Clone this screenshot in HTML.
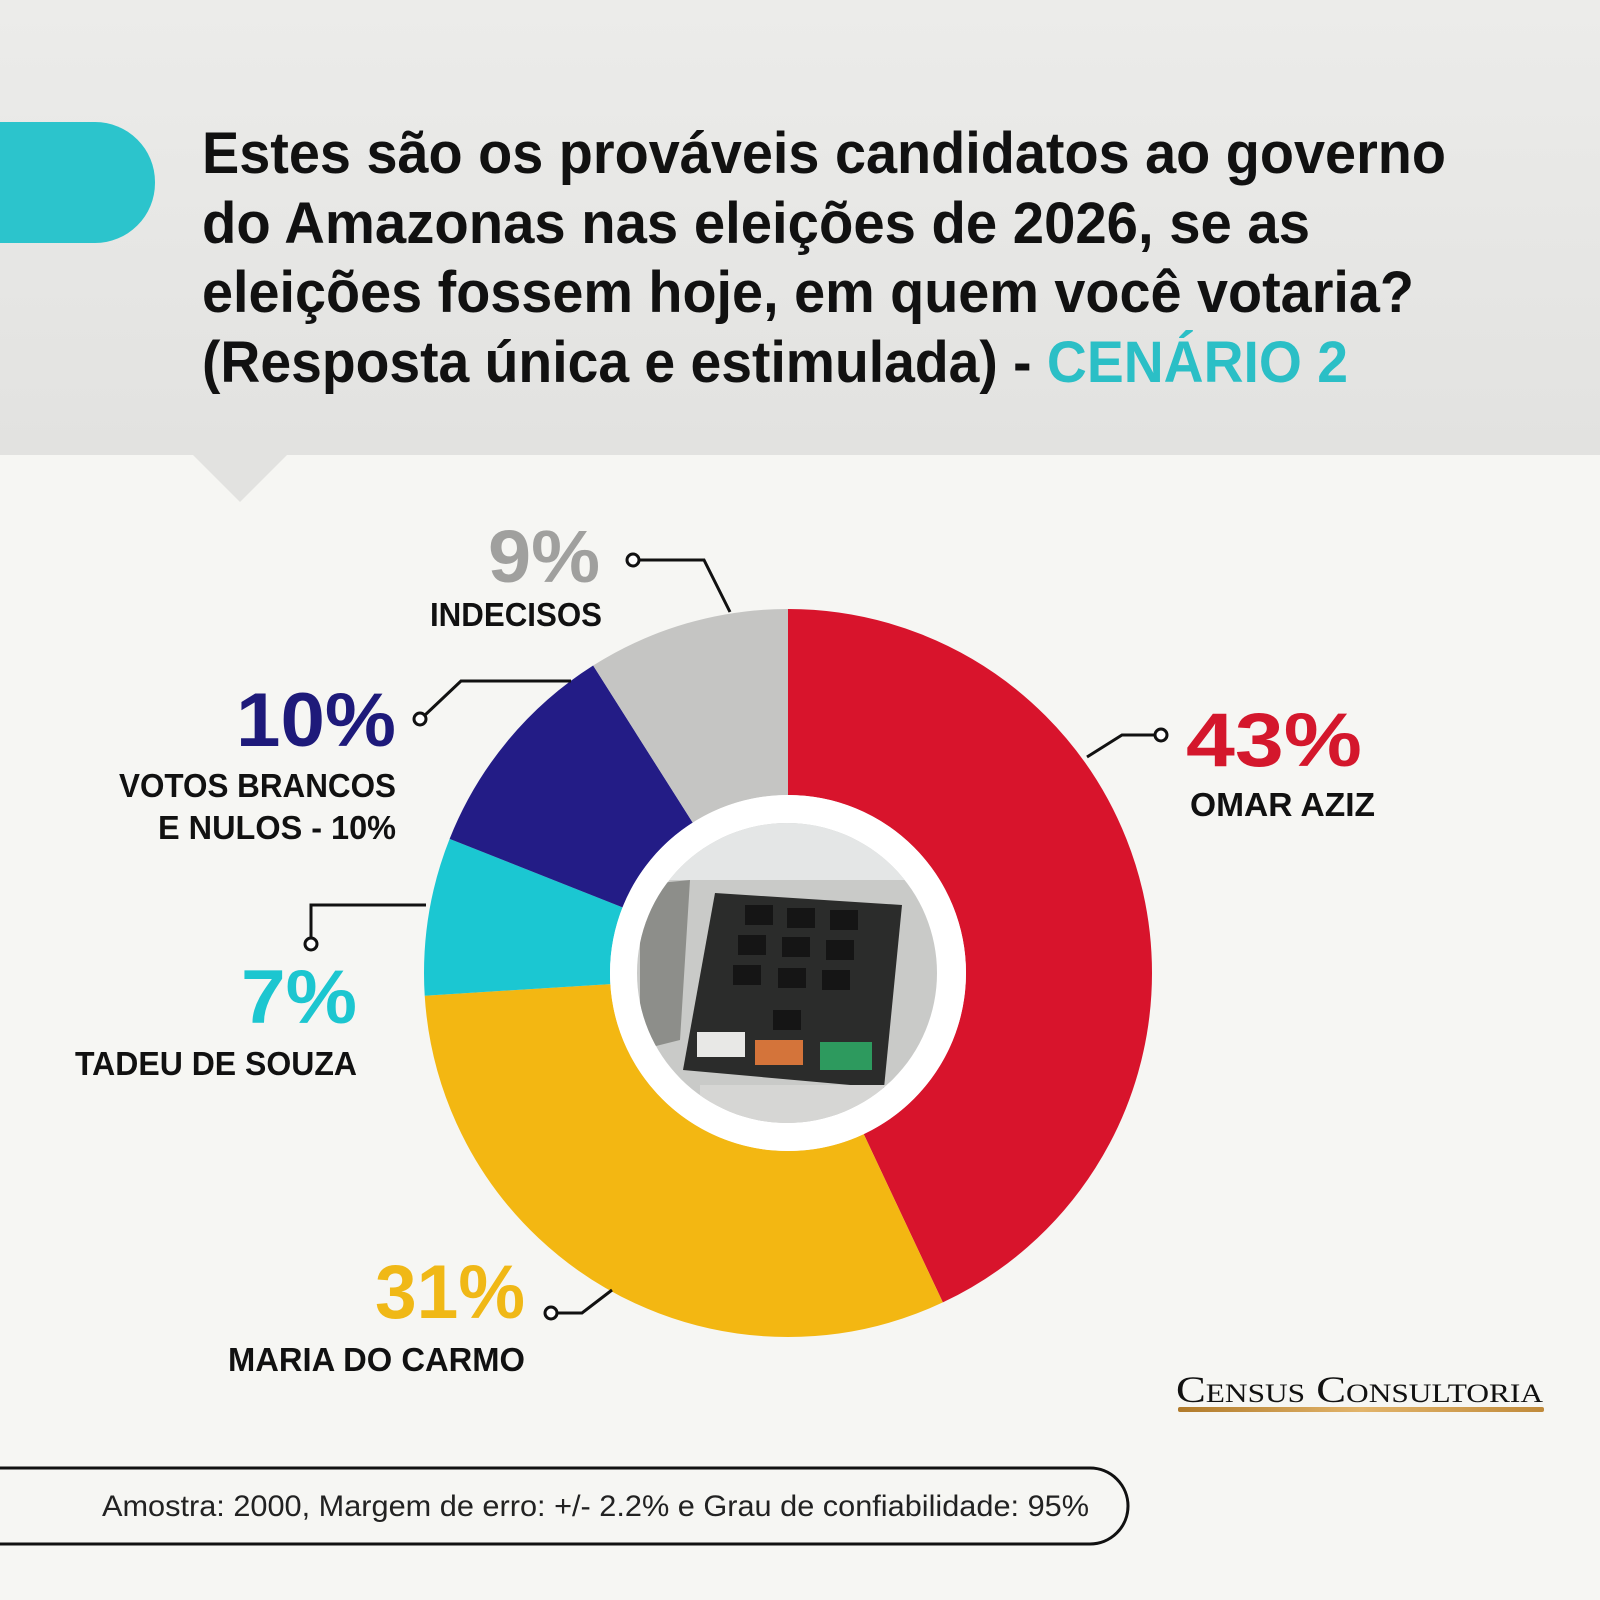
<!DOCTYPE html>
<html><head><meta charset="utf-8"><style>
html,body{margin:0;padding:0;width:1600px;height:1600px;overflow:hidden;background:#f6f6f3}
svg{display:block}
text{font-family:"Liberation Sans",sans-serif;font-weight:bold}
</style></head><body>
<svg width="1600" height="1600" viewBox="0 0 1600 1600" xmlns="http://www.w3.org/2000/svg">
<defs>
<linearGradient id="hd" x1="0" y1="0" x2="0" y2="1"><stop offset="0" stop-color="#ececea"/><stop offset="1" stop-color="#e2e2e0"/></linearGradient>
<linearGradient id="gold" x1="0" y1="0" x2="1" y2="0"><stop offset="0" stop-color="#b07a2a"/><stop offset="0.5" stop-color="#e2b46a"/><stop offset="1" stop-color="#c08a3a"/></linearGradient>
<clipPath id="ph"><circle cx="787" cy="973" r="150"/></clipPath>
</defs>
<rect width="1600" height="1600" fill="#f6f6f3"/>
<rect width="1600" height="455" fill="url(#hd)"/>
<polygon points="192,454 288,454 240,502" fill="#e2e2e0"/>
<path d="M0,122 H95 A60,60 0 0 1 155,182 V183 A60,60 0 0 1 95,243 H0 Z" fill="#2cc4cc"/>
<g font-size="58" fill="#111">
<text x="202" y="173" textLength="1244" lengthAdjust="spacingAndGlyphs">Estes são os prováveis candidatos ao governo</text>
<text x="202" y="243" textLength="1108" lengthAdjust="spacingAndGlyphs">do Amazonas nas eleições de 2026, se as</text>
<text x="202" y="312" textLength="1212" lengthAdjust="spacingAndGlyphs">eleições fossem hoje, em quem você votaria?</text>
<text x="202" y="382" textLength="1146" lengthAdjust="spacingAndGlyphs">(Resposta única e estimulada) - <tspan fill="#2bbfc6">CENÁRIO 2</tspan></text>
</g>
<g transform="rotate(-90 788 973)" fill="none" stroke-width="186">
<circle cx="788" cy="973" r="271" stroke="#d8142c" stroke-dasharray="732.2 2000" stroke-dashoffset="0"/>
<circle cx="788" cy="973" r="271" stroke="#f3b712" stroke-dasharray="527.8 2000" stroke-dashoffset="-732.2"/>
<circle cx="788" cy="973" r="271" stroke="#1bc7d2" stroke-dasharray="119.2 2000" stroke-dashoffset="-1260"/>
<circle cx="788" cy="973" r="271" stroke="#231c86" stroke-dasharray="170.3 2000" stroke-dashoffset="-1379.2"/>
<circle cx="788" cy="973" r="271" stroke="#c5c5c3" stroke-dasharray="153.2 2000" stroke-dashoffset="-1549.5"/>
</g>
<circle cx="788" cy="973" r="178" fill="#ffffff"/>
<g clip-path="url(#ph)">
<rect x="630" y="820" width="320" height="310" fill="#c9cac8"/>
<rect x="630" y="820" width="320" height="60" fill="#e4e6e6"/>
<polygon points="640,885 690,880 680,1040 640,1050" fill="#8d8e8a"/>
<polygon points="715,893 902,905 884,1088 683,1070" fill="#2b2c2b"/>
<g fill="#151515">
<rect x="745" y="905" width="28" height="20"/><rect x="787" y="908" width="28" height="20"/><rect x="830" y="910" width="28" height="20"/>
<rect x="738" y="935" width="28" height="20"/><rect x="782" y="937" width="28" height="20"/><rect x="826" y="940" width="28" height="20"/>
<rect x="733" y="965" width="28" height="20"/><rect x="778" y="968" width="28" height="20"/><rect x="822" y="970" width="28" height="20"/>
<rect x="773" y="1010" width="28" height="20"/>
</g>
<rect x="697" y="1032" width="48" height="25" fill="#e8e8e6"/>
<rect x="755" y="1040" width="48" height="25" fill="#d4743a"/>
<rect x="820" y="1042" width="52" height="28" fill="#2d9a5e"/>
<rect x="700" y="1085" width="200" height="45" fill="#d6d6d4"/>
</g>
<g fill="none" stroke="#111" stroke-width="3">
<polyline points="637,560 704,560 730,612"/><circle cx="633" cy="560" r="6" fill="#fff"/>
<polyline points="424,716 461,681 571,681"/><circle cx="420" cy="719" r="6" fill="#fff"/>
<polyline points="311,938 311,905 426,905"/><circle cx="311" cy="944" r="6" fill="#fff"/>
<polyline points="1155,735 1122,735 1087,757"/><circle cx="1161" cy="735" r="6" fill="#fff"/>
<polyline points="557,1313 582,1313 612,1290"/><circle cx="551" cy="1313" r="6" fill="#fff"/>
</g>
<text x="600" y="582" font-size="74" fill="#a0a09e" text-anchor="end" textLength="112" lengthAdjust="spacingAndGlyphs">9%</text>
<text x="602" y="626" font-size="33" fill="#111" text-anchor="end" textLength="172" lengthAdjust="spacingAndGlyphs">INDECISOS</text>
<text x="396" y="746" font-size="76" fill="#1e1a7a" text-anchor="end" textLength="160" lengthAdjust="spacingAndGlyphs">10%</text>
<text x="396" y="797" font-size="33" fill="#111" text-anchor="end" textLength="277" lengthAdjust="spacingAndGlyphs">VOTOS BRANCOS</text>
<text x="396" y="839" font-size="33" fill="#111" text-anchor="end" textLength="238" lengthAdjust="spacingAndGlyphs">E NULOS - 10%</text>
<text x="357" y="1023" font-size="76" fill="#1cc6d0" text-anchor="end" textLength="116" lengthAdjust="spacingAndGlyphs">7%</text>
<text x="357" y="1075" font-size="33" fill="#111" text-anchor="end" textLength="282" lengthAdjust="spacingAndGlyphs">TADEU DE SOUZA</text>
<text x="1186" y="766" font-size="76" fill="#d4172c" textLength="176" lengthAdjust="spacingAndGlyphs">43%</text>
<text x="1190" y="816" font-size="33" fill="#111" textLength="185" lengthAdjust="spacingAndGlyphs">OMAR AZIZ</text>
<text x="525" y="1318" font-size="76" fill="#f0b816" text-anchor="end" textLength="150" lengthAdjust="spacingAndGlyphs">31%</text>
<text x="525" y="1371" font-size="33" fill="#111" text-anchor="end" textLength="297" lengthAdjust="spacingAndGlyphs">MARIA DO CARMO</text>
<text x="1176" y="1402" font-size="37" fill="#111" style="font-family:'Liberation Serif',serif;font-weight:normal;font-variant:small-caps" textLength="367" lengthAdjust="spacingAndGlyphs">Census Consultoria</text>
<rect x="1178" y="1407" width="366" height="5" rx="2" fill="url(#gold)"/>
<path d="M-5,1468 H1090 A38,38 0 0 1 1128,1506 A38,38 0 0 1 1090,1544 H-5" fill="none" stroke="#111" stroke-width="3"/>
<text x="102" y="1516" font-size="30" fill="#222" style="font-weight:normal" textLength="987" lengthAdjust="spacingAndGlyphs">Amostra: 2000, Margem de erro: +/- 2.2% e Grau de confiabilidade: 95%</text>
</svg>
</body></html>
